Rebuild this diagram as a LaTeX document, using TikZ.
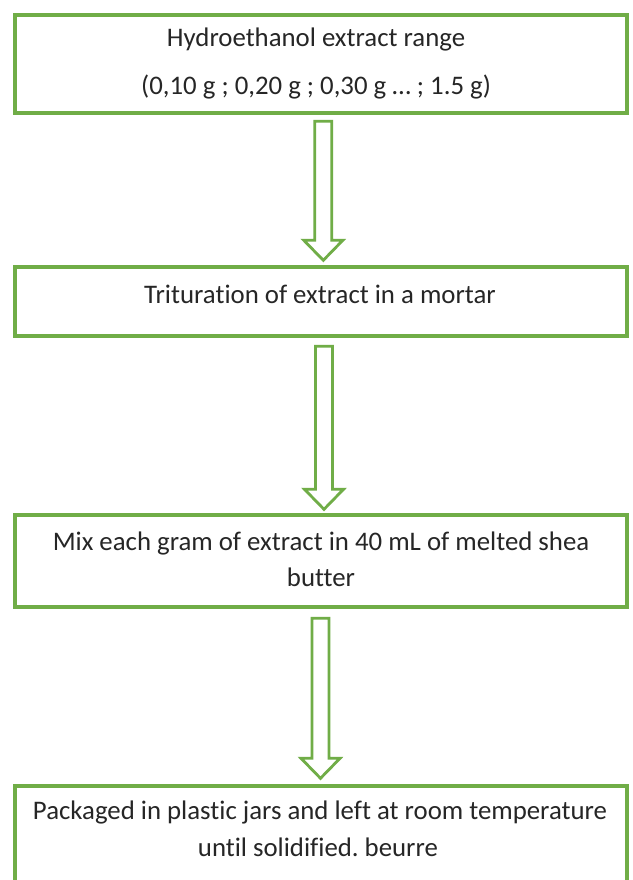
\documentclass[tikz,border=0pt]{standalone}
\usepackage{fontspec}
\setmainfont{Carlito}[Ligatures={NoCommon}]
\usetikzlibrary{calc}
\frenchspacing
\definecolor{offgreen}{HTML}{70AD47}
\tikzset{
  box/.style={draw=offgreen, line width=3.4pt, fill=white, minimum width=612pt, inner sep=0pt},
  txt/.style={font=\fontsize{26.8}{30}\selectfont, text=black!85, inner sep=0pt},
  arr/.style={draw=offgreen, line width=2.8pt, fill=white, line join=miter}
}
\newcommand\flowarrow[5]{%
  \draw[arr] ($(#1.south)+(#3-8.5,-#4)$) -- ($(#2.north)+(#3-8.5,#5+20)$)
    -- ($(#2.north)+(#3-19.5,#5+20)$) -- ($(#2.north)+(#3,#5)$)
    -- ($(#2.north)+(#3+19.5,#5+20)$) -- ($(#2.north)+(#3+8.5,#5+20)$)
    -- ($(#1.south)+(#3+8.5,-#4)$) -- cycle;}
\begin{document}
\begin{tikzpicture}[x=1pt,y=1pt]
\useasboundingbox (0,0) rectangle (632,-880);
\clip (0,0) rectangle (632,-880);
\fill[white] (0,0) rectangle (632,-880);
% boxes
\node[box, minimum height=98pt] (b1) at (321,-64) {};
\node[box, minimum height=69pt] (b2) at (321,-301.5) {};
\node[box, minimum height=92pt] (b3) at (321,-561) {};
\node[box, minimum height=114pt] (b4) at (321,-843) {};
% texts
\node[txt] (t1a) at (316,-40) {Hydroethanol extract range};
\node[txt] (t1b) at (316,-87) {(0,10 g ; 0,20 g ; 0,30 g … ; 1.5 g)};
\node[txt] (t2) at (320,-294) {Trituration of extract in a mortar};
\node[txt] (t3a) at (321,-543) {Mix each gram of extract in 40 mL of melted shea};
\node[txt] (t3b) at (321,-577) {butter};
\node[txt] (t4a) at (320,-812) {Packaged in plastic jars and left at room temperature};
\node[txt] (t4b) at (318,-847) {until solidified. beurre};
% arrows
\flowarrow{b1}{b2}{2.3}{6.5}{5}
\flowarrow{b2}{b3}{3}{8.5}{4}
\flowarrow{b3}{b4}{-0.5}{9.5}{6}
\end{tikzpicture}
\end{document}
